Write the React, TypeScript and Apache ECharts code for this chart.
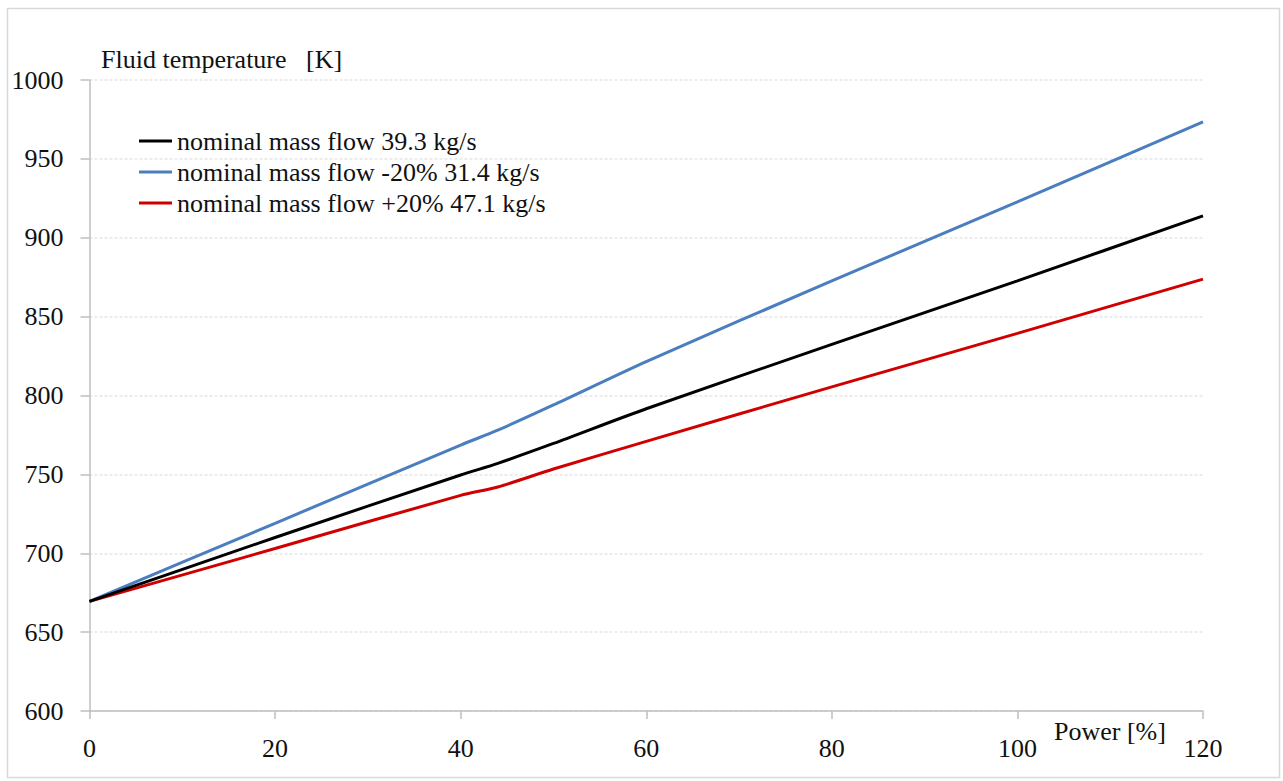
import React, { useEffect, useRef } from "react";
import * as echarts from "echarts";

const power = [0, 20, 40, 44, 50, 60, 80, 100, 120];
const nominal = [669.5, 710, 749.6, 757, 769.6, 791.6, 832.4, 872.7, 913.9];
const minus20 = [669.5, 719, 768.6, 778, 794, 821.5, 872.7, 922.7, 973.5];
const plus20 = [669.5, 703, 736.7, 742, 753.4, 770.9, 805.5, 839.4, 873.8];

const seriesNames = [
  "nominal mass flow 39.3 kg/s",
  "nominal mass flow -20% 31.4 kg/s",
  "nominal mass flow +20% 47.1 kg/s",
];
const seriesColors = ["#000000", "#4a7ebf", "#d00000"];
const yTitle = "Fluid temperature   [K]";
const xTitle = "Power [%]";

const FONT = "Liberation Serif";

export default function App() {
  const ref = useRef<HTMLDivElement>(null);
  useEffect(() => {
    if (!ref.current) return;
    const chart = echarts.init(ref.current, undefined, { renderer: "svg" });
    const values = [nominal, minus20, plus20];
    chart.setOption({
      animation: false,
      backgroundColor: "#ffffff",
      textStyle: { fontFamily: FONT },
      grid: { left: 89.5, right: 80, top: 80, bottom: 70, containLabel: false },
      legend: {
        orient: "vertical",
        left: 139,
        top: 128,
        padding: 0,
        icon: "rect",
        itemWidth: 33,
        itemHeight: 3,
        itemGap: 5,
        textStyle: { fontFamily: FONT, fontSize: 26, color: "#111" },
        data: seriesNames,
      },
      xAxis: {
        type: "value",
        min: 0,
        max: 120,
        interval: 20,
        axisLine: { show: true, lineStyle: { color: "#bfbfbf", width: 1.5 } },
        axisTick: { show: true, length: 8, lineStyle: { color: "#bfbfbf", width: 1.5 } },
        axisLabel: { margin: 24, fontFamily: FONT, fontSize: 26, color: "#111" },
        splitLine: { show: false },
      },
      yAxis: {
        type: "value",
        min: 600,
        max: 1000,
        interval: 50,
        axisLine: { show: true, lineStyle: { color: "#bfbfbf", width: 1.5 } },
        axisTick: { show: true, length: 9, lineStyle: { color: "#bfbfbf", width: 1.5 } },
        axisLabel: {
          margin: 26,
          fontFamily: FONT,
          fontSize: 26,
          color: "#111",
          formatter: (v: number) => String(v),
        },
        splitLine: { show: true, lineStyle: { color: "#e6e6e6", type: [3, 2], width: 1.5 } },
      },
      series: seriesNames.map((name, i) => ({
        name,
        type: "line",
        data: power.map((p, j) => [p, values[i][j]]),
        symbol: "none",
        smooth: 0.25,
        lineStyle: { color: seriesColors[i], width: 3 },
        itemStyle: { color: seriesColors[i] },
        z: 3 - i,
      })),
      graphic: [
        {
          type: "rect",
          shape: { x: 7.5, y: 8.5, width: 1272, height: 769 },
          style: { fill: "none", stroke: "#d9d9d9", lineWidth: 1.5 },
          silent: true,
        },
        {
          type: "text",
          left: 101,
          top: 46,
          style: { text: yTitle, fontFamily: FONT, fontSize: 26, fill: "#111" },
        },
        {
          type: "text",
          left: 1054,
          top: 718,
          style: { text: xTitle, fontFamily: FONT, fontSize: 26, fill: "#111" },
        },
      ],
    });
    return () => chart.dispose();
  }, []);
  return (
    <div
      ref={ref}
      style={{ position: "fixed", left: 0, top: 0, width: 1283, height: 781 }}
    />
  );
}
